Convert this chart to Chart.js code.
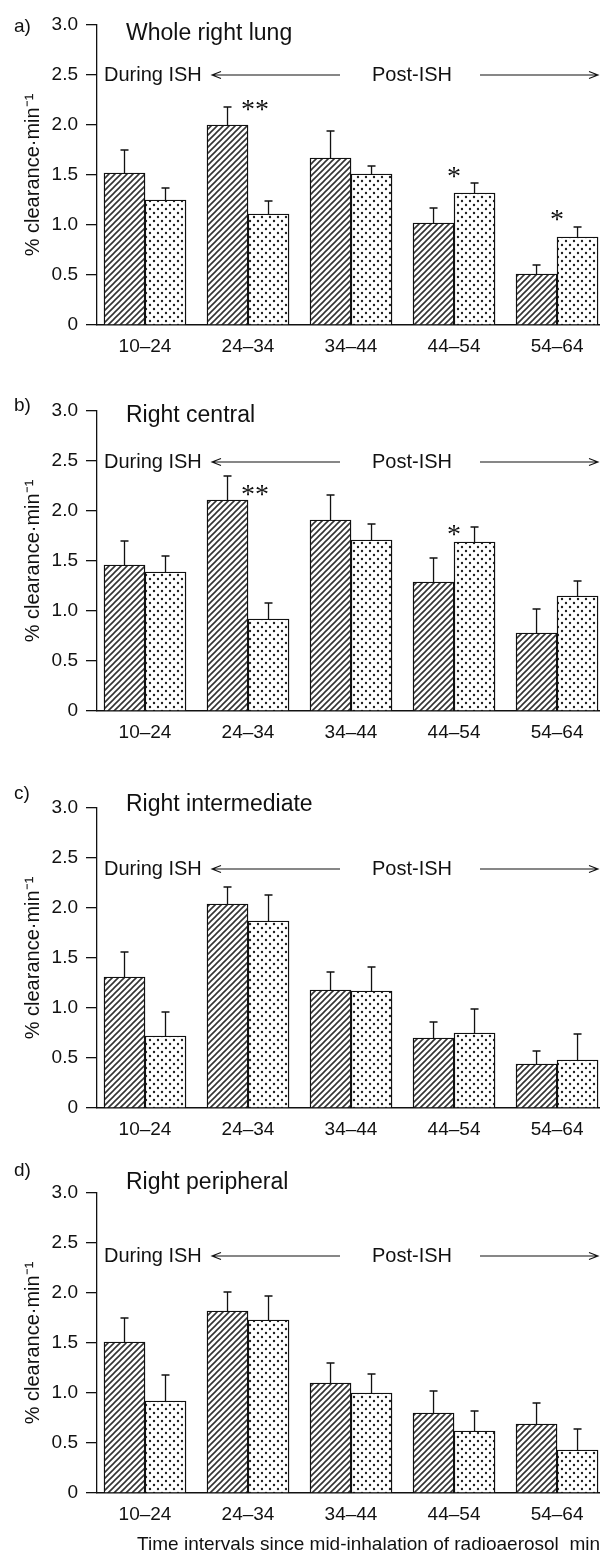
<!DOCTYPE html>
<html lang="en">
<head>
<meta charset="UTF-8">
<title>% clearance·min-1 in the right lung</title>
<script src="https://cdn.jsdelivr.net/npm/chart.js"></script>
<style>
  body { margin: 0; background: #fff; }
  #wrap { position: relative; width: 600px; height: 1557px; overflow: hidden; }
  #wrap canvas { position: absolute; left: 0; }
</style>
</head>
<body>
<div id="wrap">
  <canvas id="panelA" width="600" height="390" style="top:-5px"></canvas>
  <canvas id="panelB" width="600" height="390" style="top:381px"></canvas>
  <canvas id="panelC" width="600" height="390" style="top:778px"></canvas>
  <canvas id="panelD" width="600" height="394" style="top:1163px"></canvas>
</div>
<script>
// time intervals (min) on the x axis
var intervals = ['10–24', '24–34', '34–44', '44–54', '54–64'];

// a) whole right lung
var wholeHatched    = [1.52, 2.00, 1.67, 1.02, 0.51];
var wholeHatchedErr = [0.23, 0.18, 0.27, 0.15, 0.09];
var wholeDotted     = [1.25, 1.11, 1.51, 1.32, 0.88];
var wholeDottedErr  = [0.12, 0.13, 0.08, 0.10, 0.10];

// b) right central
var centralHatched    = [1.46, 2.11, 1.91, 1.29, 0.78];
var centralHatchedErr = [0.24, 0.24, 0.25, 0.24, 0.24];
var centralDotted     = [1.39, 0.92, 1.71, 1.69, 1.15];
var centralDottedErr  = [0.16, 0.16, 0.16, 0.15, 0.15];

// c) right intermediate
var interHatched    = [1.31, 2.04, 1.18, 0.70, 0.44];
var interHatchedErr = [0.25, 0.17, 0.18, 0.16, 0.13];
var interDotted     = [0.72, 1.87, 1.17, 0.75, 0.48];
var interDottedErr  = [0.24, 0.26, 0.24, 0.24, 0.26];

// d) right peripheral
var periHatched    = [1.51, 1.82, 1.10, 0.80, 0.69];
var periHatchedErr = [0.24, 0.19, 0.20, 0.22, 0.21];
var periDotted     = [0.92, 1.73, 1.00, 0.62, 0.43];
var periDottedErr  = [0.26, 0.24, 0.19, 0.20, 0.21];

// significance marks per interval
var wholeSig   = ['', '**', '', '*', '*'];
var centralSig = ['', '**', '', '*', ''];

var yTicks = [0, 0.5, 1.0, 1.5, 2.0, 2.5, 3.0];

var sans = '"Liberation Sans", Arial, Helvetica, sans-serif';
var ink = '#111';
Chart.defaults.font.family = sans;
Chart.defaults.color = ink;

// fill patterns
function hatchPattern() {
    var c = document.createElement('canvas');
    c.width = c.height = 6;
    var g = c.getContext('2d');
    g.fillStyle = '#fff';
    g.fillRect(0, 0, 6, 6);
    g.strokeStyle = '#333';
    g.lineWidth = 1.6;
    g.beginPath();
    g.moveTo(0, 6); g.lineTo(6, 0);
    g.moveTo(-3, 3); g.lineTo(3, -3);
    g.moveTo(3, 9); g.lineTo(9, 3);
    g.stroke();
    return g.createPattern(c, 'repeat');
}
function dotPattern() {
    var c = document.createElement('canvas');
    c.width = c.height = 8;
    var g = c.getContext('2d');
    g.fillStyle = '#fff';
    g.fillRect(0, 0, 8, 8);
    g.fillStyle = '#222';
    g.beginPath();
    g.arc(2, 2, 1.2, 0, Math.PI * 2);
    g.arc(6, 6, 1.2, 0, Math.PI * 2);
    g.fill();
    return g.createPattern(c, 'repeat');
}
var hatch = hatchPattern();
var dots = dotPattern();

// upward SEM bars
var errorBars = {
    id: 'errorBars',
    afterDatasetsDraw: function (chart) {
        var ctx = chart.ctx, ys = chart.scales.y;
        ctx.save();
        ctx.strokeStyle = ink;
        ctx.lineWidth = 1.3;
        chart.data.datasets.forEach(function (ds, d) {
            chart.getDatasetMeta(d).data.forEach(function (bar, i) {
                var top = ys.getPixelForValue(ds.data[i].y + ds.errors[i]);
                ctx.beginPath();
                ctx.moveTo(bar.x, bar.y);
                ctx.lineTo(bar.x, top);
                ctx.moveTo(bar.x - 4, top);
                ctx.lineTo(bar.x + 4, top);
                ctx.stroke();
            });
        });
        ctx.restore();
    }
};

function arrow(ctx, x0, x1, y) {
    var dir = x1 > x0 ? 1 : -1;
    ctx.beginPath();
    ctx.moveTo(x0, y);
    ctx.lineTo(x1, y);
    ctx.moveTo(x1 - dir * 9, y - 3.5);
    ctx.lineTo(x1, y);
    ctx.lineTo(x1 - dir * 9, y + 3.5);
    ctx.stroke();
}

// panel letter, title, phase arrows and stars
var panelText = {
    id: 'panelText',
    afterDraw: function (chart) {
        var o = chart.options.plugins.panelText;
        var ctx = chart.ctx, a = chart.chartArea, ys = chart.scales.y, xs = chart.scales.x;
        ctx.save();
        ctx.fillStyle = ink;
        ctx.strokeStyle = ink;
        ctx.textBaseline = 'middle';
        ctx.textAlign = 'left';

        ctx.font = '19px ' + sans;
        ctx.fillText(o.letter, 14, a.top + o.letterDy);

        ctx.font = '23px ' + sans;
        ctx.fillText(o.title, a.left + 29, a.top + o.titleDy);

        var py = ys.getPixelForValue(o.phaseAt);
        ctx.font = '20px ' + sans;
        ctx.fillText('During ISH', a.left + 7, py);
        ctx.textAlign = 'center';
        ctx.fillText('Post-ISH', a.left + 315, py);
        ctx.lineWidth = 1.1;
        arrow(ctx, a.left + 243, a.left + 115, py);
        arrow(ctx, a.left + 383, a.right - 2, py);

        // significance
        ctx.font = '28px "Liberation Serif", "Times New Roman", serif';
        ctx.textAlign = 'left';
        ctx.textBaseline = 'alphabetic';
        (o.stars || []).forEach(function (s) {
            var gx = xs.getPixelForValue(s.at + 1);
            ctx.fillText(o.sig[s.at], gx - 7, ys.getPixelForValue(s.y) + 13);
        });
        ctx.restore();
    }
};

function makePanel(id, hatched, hatchedErr, dotted, dottedErr, text, xTitle) {
    var ctx = document.getElementById(id).getContext('2d');
    var toPoints = function (vals) {
        return vals.map(function (v, i) { return { x: i + 1, y: v }; });
    };
    var axisHeight = xTitle ? 64 : 60;
    return new Chart(ctx, {
        type: 'bar',
        data: {
            datasets: [{
                data: toPoints(hatched),
                errors: hatchedErr,
                backgroundColor: hatch
            }, {
                data: toPoints(dotted),
                errors: dottedErr,
                backgroundColor: dots
            }]
        },
        options: {
            responsive: false,
            animation: false,
            layout: { padding: { top: 30, left: 0, right: 0, bottom: 0 } },
            datasets: {
                bar: {
                    barThickness: 41,
                    borderColor: ink,
                    borderWidth: 1.4,
                    borderSkipped: 'bottom'
                }
            },
            plugins: {
                legend: { display: false },
                tooltip: { enabled: false },
                panelText: text
            },
            scales: {
                x: {
                    type: 'linear',
                    offset: false,
                    min: 0.534,
                    max: 5.417,
                    afterFit: function (s) { s.height = axisHeight; },
                    afterBuildTicks: function (s) {
                        s.ticks = intervals.map(function (_, i) { return { value: i + 1 }; });
                    },
                    border: { color: ink, width: 1.5 },
                    grid: { offset: false, drawOnChartArea: false, drawTicks: false },
                    ticks: {
                        padding: 10,
                        font: { size: 19 },
                        color: ink,
                        callback: function (v) { return intervals[v - 1]; }
                    },
                    title: {
                        display: !!xTitle,
                        text: xTitle || '',
                        align: 'end',
                        font: { size: 19 },
                        color: ink,
                        padding: { top: 0, bottom: 1 }
                    }
                },
                y: {
                    min: 0,
                    max: 3,
                    afterFit: function (s) { s.width = 97; },
                    afterBuildTicks: function (s) {
                        s.ticks = yTicks.map(function (v) { return { value: v }; });
                    },
                    border: { color: ink, width: 1.3 },
                    grid: { drawOnChartArea: false, drawTicks: true, tickLength: 11, color: ink, lineWidth: 1.3 },
                    ticks: {
                        padding: 8,
                        font: { size: 19 },
                        color: ink,
                        callback: function (v) { return v === 0 ? '0' : v.toFixed(1); }
                    },
                    title: {
                        display: true,
                        text: '% clearance·min⁻¹',
                        font: { size: 20 },
                        color: ink,
                        padding: { top: 21, bottom: 0 }
                    }
                }
            }
        },
        plugins: [errorBars, panelText]
    });
}

makePanel('panelA', wholeHatched, wholeHatchedErr, wholeDotted, wholeDottedErr, {
    letter: 'a)', letterDy: 2, title: 'Whole right lung', titleDy: 9, phaseAt: 2.5,
    sig: wholeSig, stars: [{ at: 1, y: 2.20 }, { at: 3, y: 1.53 }, { at: 4, y: 1.10 }]
});
makePanel('panelB', centralHatched, centralHatchedErr, centralDotted, centralDottedErr, {
    letter: 'b)', letterDy: -5, title: 'Right central', titleDy: 5, phaseAt: 2.49,
    sig: centralSig, stars: [{ at: 1, y: 2.215 }, { at: 3, y: 1.81 }]
});
makePanel('panelC', interHatched, interHatchedErr, interDotted, interDottedErr, {
    letter: 'c)', letterDy: -14, title: 'Right intermediate', titleDy: -3, phaseAt: 2.39
});
makePanel('panelD', periHatched, periHatchedErr, periDotted, periDottedErr, {
    letter: 'd)', letterDy: -22, title: 'Right peripheral', titleDy: -10, phaseAt: 2.37
}, 'Time intervals since mid-inhalation of radioaerosol  min');
</script>
</body>
</html>
